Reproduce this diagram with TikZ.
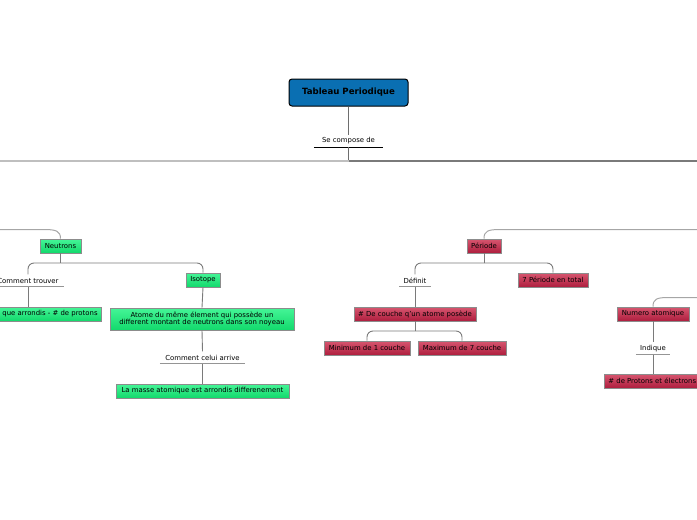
\documentclass[tikz,border=0pt]{standalone}
\usepackage{fontspec}
\setmainfont{DejaVu Sans}
\definecolor{rootblue}{HTML}{0A6FB2}
\definecolor{gtop}{HTML}{45F597}
\definecolor{gbot}{HTML}{12D96C}
\definecolor{rtop}{HTML}{D7566F}
\definecolor{rbot}{HTML}{AE1E3E}
\definecolor{boxedge}{HTML}{8C8C8C}
\definecolor{conn}{HTML}{7A7A7A}
\begin{document}
\begin{tikzpicture}[x=1pt,y=-1pt,
  font=\fontsize{6.9}{8}\selectfont,
  root/.style={draw=black, line width=1pt, rounded corners=3pt, fill=rootblue,
    minimum width=119pt, minimum height=27pt, font=\fontsize{8.6}{10}\selectfont\bfseries, inner sep=0pt},
  gbox/.style={draw=boxedge, line width=0.8pt, top color=gtop, bottom color=gbot,
    minimum height=14pt, inner xsep=4pt, inner ysep=0pt},
  rbox/.style={draw=boxedge, line width=0.8pt, top color=rtop, bottom color=rbot,
    minimum height=14pt, inner xsep=4pt, inner ysep=0pt},
  lbl/.style={minimum height=12pt, inner sep=0pt},
  ul/.style={draw=conn!80, line width=0.8pt},
  cn/.style={draw=conn, line width=0.9pt},
  cnr/.style={draw=conn, line width=0.9pt, rounded corners=6pt},
]
\useasboundingbox (0,0) rectangle (697,520);
\clip (0,0) rectangle (697,520);

% root
\node[root] (root) at (348.5,92.5) {Tableau Periodique};
\node[lbl, minimum width=69pt] (sc) at (348.5,141) {Se compose de};
\draw[black, line width=0.9pt] (sc.south west) -- (sc.south east);
\coordinate (sj) at (348.5,161);
\coordinate (sL) at (0,161);
\coordinate (sR) at (697,161);
\draw[cn, line width=1.2pt, draw=conn!90!black] (root.south) -- (sc.north);
\draw[cn, line width=1.2pt, draw=conn!90!black] (sc.south) -- (sj);
\draw[draw=black!25, line width=1.5pt] (sL) -- (sj);
\draw[draw=conn, line width=1.3pt] (sj) -- (sR);

% Neutrons branch
\node[gbox, minimum width=41pt] (neu) at (60.5,246) {Neutrons};
\coordinate (nL) at (0,229.5);
\draw[draw=black!35, line width=1pt] (nL) -- (44,229.5) .. controls (56,229.5) and (60.5,231) .. (neu.north);
\coordinate (nj) at (60.5,263);
\draw[cn] (neu.south) -- (nj);
\node[lbl, minimum width=72pt] (ct) at (28,280.5) {Comment trouver};
\draw[ul] (ct.south west) -- (ct.south east);
\node[gbox, minimum width=34pt] (iso) at (203,280) {Isotope};
\draw[cnr] (nj) -| (ct.north);
\draw[cnr] (nj) -| (iso.north);
\node[gbox, anchor=east] (mas) at (102,314) {que arrondis - \# de protons};
\draw[cn] (ct.south) -- (mas.north -| ct.south);
\node[gbox, minimum width=184pt, minimum height=22pt, align=center, font=\fontsize{6.9}{7.8}\selectfont] (ato) at (202,319)
  {Atome du même élement qui possède un\\different montant de neutrons dans son noyeau};
\draw[cn] (iso.south) -- (ato.north);
\node[lbl, minimum width=85pt] (cc) at (202.5,357.5) {Comment celui arrive};
\draw[ul] (cc.south west) -- (cc.south east);
\draw[cn] (ato.south) -- (cc.north);
\node[gbox, minimum width=173pt] (lam) at (202.5,391) {La masse atomique est arrondis differenement};
\draw[cn] (cc.south) -- (lam.north);

% Periode branch
\node[rbox, minimum width=34pt] (per) at (484,246) {Période};
\coordinate (pR) at (697,229.5);
\draw[draw=black!35, line width=1pt] (pR) -- (500,229.5) .. controls (488,229.5) and (484,231) .. (per.north);
\coordinate (pj) at (484,263);
\draw[cn] (per.south) -- (pj);
\node[lbl, minimum width=31pt] (def) at (415,280.5) {Définit};
\draw[ul] (def.south west) -- (def.south east);
\node[rbox, minimum width=70pt] (sep) at (553,280) {7 Période en total};
\draw[cnr] (pj) -| (def.north);
\draw[cnr] (pj) -| (sep.north);
\node[rbox, minimum width=122pt] (cou) at (415,314) {\# De couche q'un atome posède};
\draw[cn] (def.south) -- (cou.north);
\coordinate (cj) at (415,331);
\draw[cn] (cou.south) -- (cj);
\node[rbox, minimum width=86pt] (min) at (367,348) {Minimum de 1 couche};
\node[rbox, minimum width=88pt] (max) at (462,348) {Maximum de 7 couche};
\draw[cnr] (cj) -| (min.north);
\draw[cnr] (cj) -| (max.north);

% Numero atomique branch
\node[rbox, minimum width=72pt] (num) at (653,314) {Numero atomique};
\coordinate (naR) at (697,297.5);
\draw[draw=black!35, line width=1pt] (naR) -- (668,297.5) .. controls (657,297.5) and (653,299) .. (num.north);
\node[lbl, minimum width=34pt] (ind) at (653,348.5) {Indique};
\draw[ul] (ind.south west) -- (ind.south east);
\draw[cn] (num.south) -- (ind.north);
\node[rbox, anchor=west] (pro) at (604,381) {\# de Protons et électrons};
\draw[cn] (ind.south) -- (pro.north -| ind.south);
\end{tikzpicture}
\end{document}
